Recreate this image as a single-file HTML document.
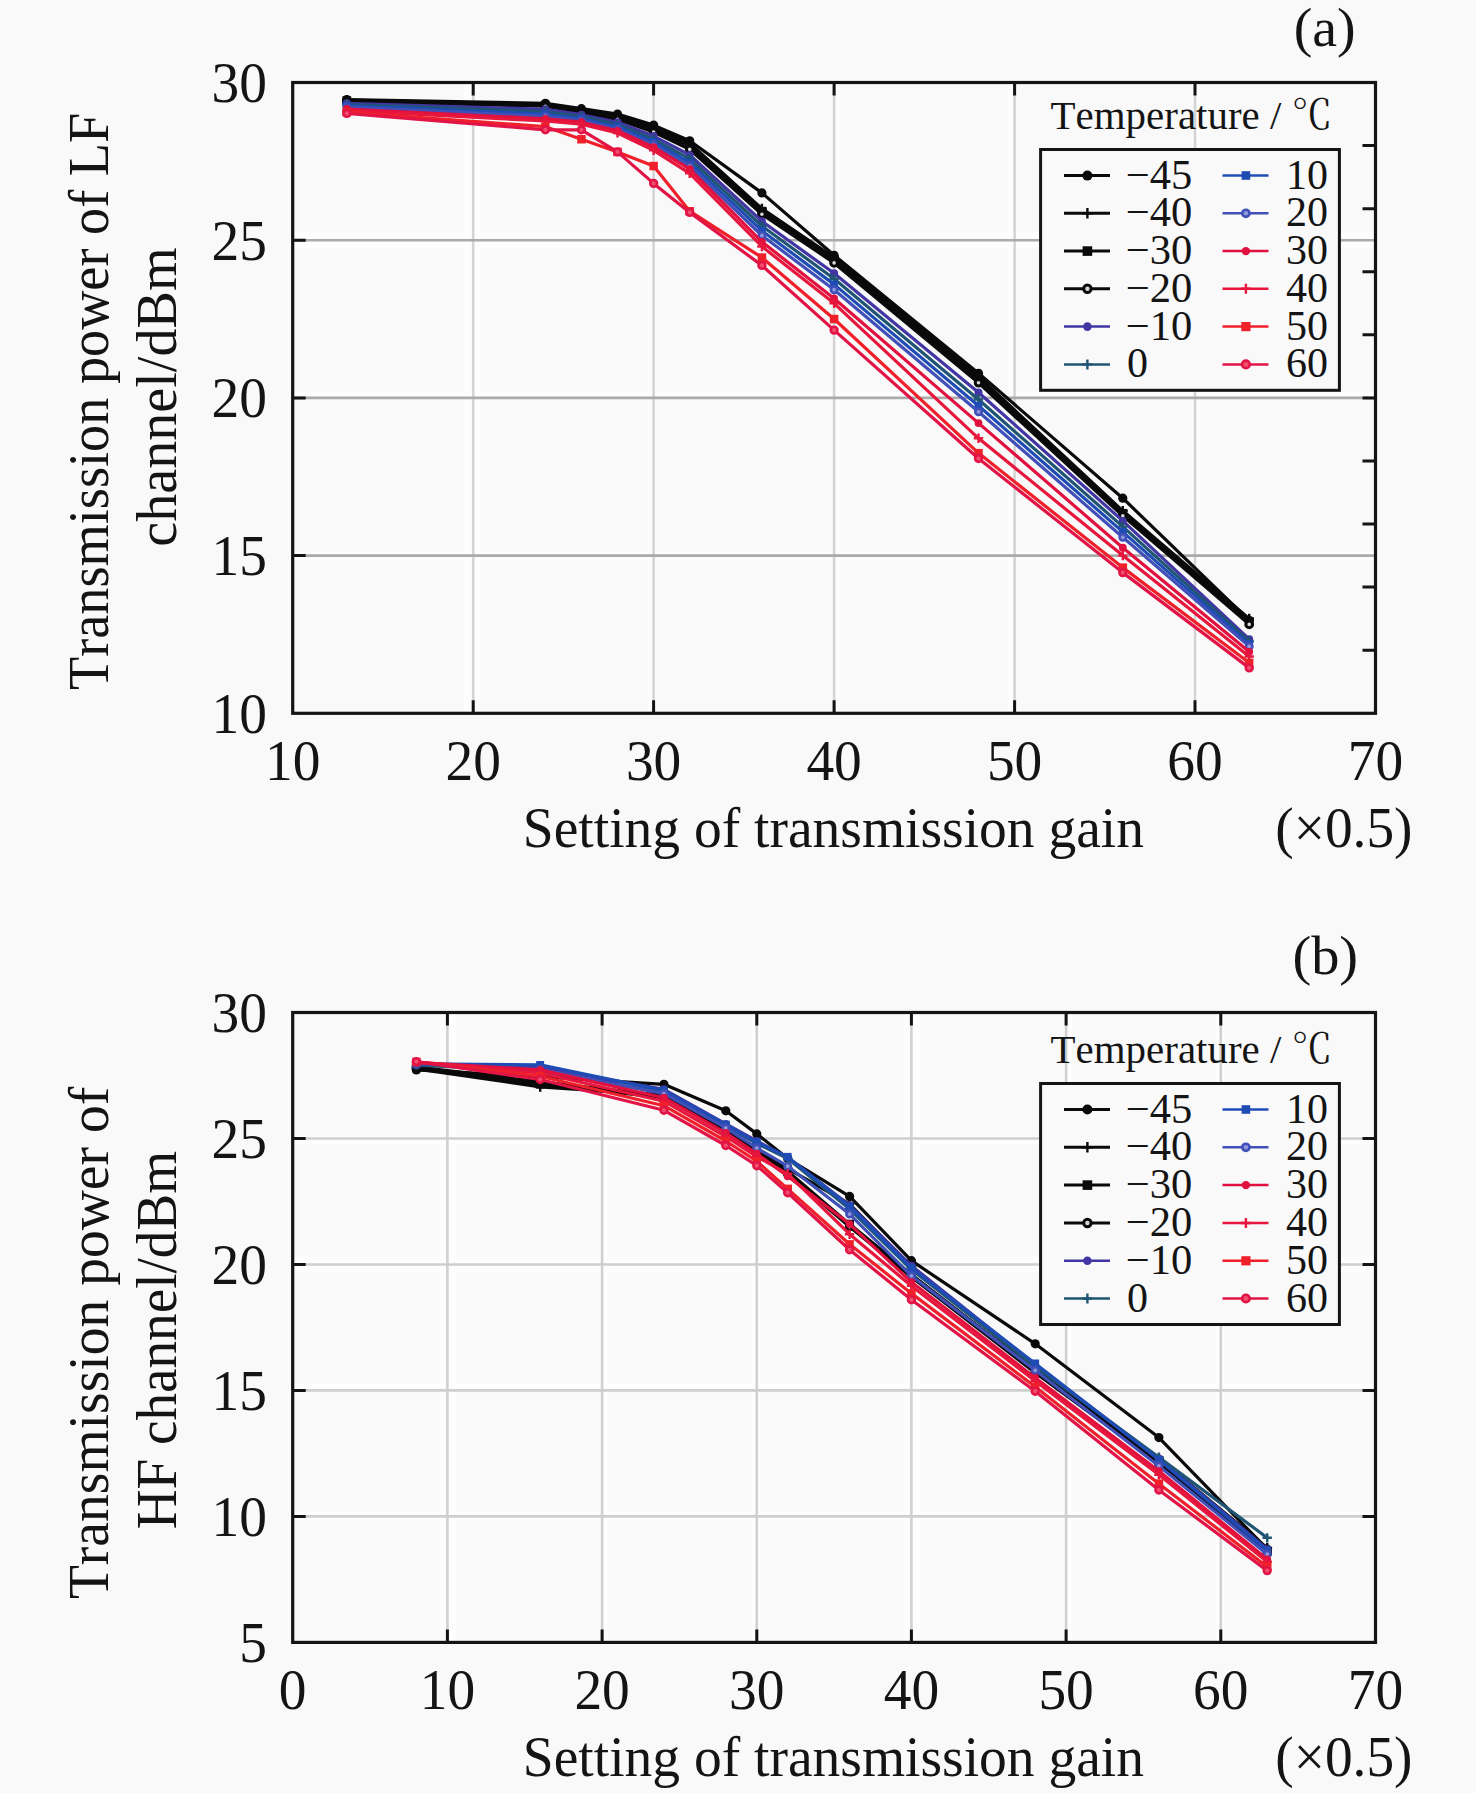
<!DOCTYPE html>
<html lang="en">
<head>
<meta charset="utf-8">
<title>Transmission power vs. transmission gain setting</title>
<style>
html,body{margin:0;padding:0;background:#f9f9f9;}
body{width:1476px;height:1793px;overflow:hidden;font-family:"Liberation Serif", "Noto Serif CJK SC", serif;}
svg{display:block;}
text{white-space:pre;font-kerning:none;}
</style>
</head>
<body>
<svg width="1476" height="1793" viewBox="0 0 1476 1793" font-family='"Liberation Serif", "Noto Serif CJK SC", serif' fill="#141414">
<rect width="1476" height="1793" fill="#f9f9f9"/>
<g fill="#fdfdfd"><rect x="464" y="82.5" width="16" height="630.8"/><rect x="648" y="82.5" width="8" height="630.8"/><rect x="832" y="82.5" width="8" height="630.8"/><rect x="1008" y="82.5" width="8" height="630.8"/><rect x="1192" y="82.5" width="8" height="630.8"/><rect x="292.7" y="552" width="1082.8" height="8"/><rect x="292.7" y="392" width="1082.8" height="8"/><rect x="292.7" y="232" width="1082.8" height="16"/></g>
<g stroke-width="2.6" fill="none"><path d="M473.2 82.5V713.3" stroke="#d4d4d4"/><path d="M653.6 82.5V713.3" stroke="#d4d4d4"/><path d="M834.1 82.5V713.3" stroke="#d4d4d4"/><path d="M1014.6 82.5V713.3" stroke="#d4d4d4"/><path d="M1195 82.5V713.3" stroke="#d4d4d4"/><path d="M292.7 555.6H1375.5" stroke="#aaaaaa"/><path d="M292.7 397.9H1375.5" stroke="#aaaaaa"/><path d="M292.7 240.2H1375.5" stroke="#aaaaaa"/></g>
<polyline points="346.8,99.5 545.4,103.3 581.4,108.7 617.5,114 653.6,125.1 689.7,140.8 761.9,192.9 834.1,255.3 978.5,373.3 1122.8,498.2 1249.2,620.3" fill="none" stroke="#0a0a0a" stroke-width="3.2" stroke-linejoin="round"/>
<circle cx="346.8" cy="99.5" r="4.6" fill="#0a0a0a"/><circle cx="545.4" cy="103.3" r="4.6" fill="#0a0a0a"/><circle cx="581.4" cy="108.7" r="4.6" fill="#0a0a0a"/><circle cx="617.5" cy="114" r="4.6" fill="#0a0a0a"/><circle cx="653.6" cy="125.1" r="4.6" fill="#0a0a0a"/><circle cx="689.7" cy="140.8" r="4.6" fill="#0a0a0a"/><circle cx="761.9" cy="192.9" r="4.6" fill="#0a0a0a"/><circle cx="834.1" cy="255.3" r="4.6" fill="#0a0a0a"/><circle cx="978.5" cy="373.3" r="4.6" fill="#0a0a0a"/><circle cx="1122.8" cy="498.2" r="4.6" fill="#0a0a0a"/><circle cx="1249.2" cy="620.3" r="4.6" fill="#0a0a0a"/>
<polyline points="346.8,100.2 545.4,104.3 581.4,110.3 617.5,116.2 653.6,127.6 689.7,143.1 761.9,208.7 834.1,257.5 978.5,376.5 1122.8,510.8 1249.2,618.7" fill="none" stroke="#0a0a0a" stroke-width="3.2" stroke-linejoin="round"/>
<path d="M346.8 95.3V105M342 100.2H351.7" stroke="#0a0a0a" stroke-width="2.4" fill="none"/><path d="M545.4 99.4V109.1M540.5 104.3H550.2" stroke="#0a0a0a" stroke-width="2.4" fill="none"/><path d="M581.4 105.4V115.1M576.6 110.3H586.3" stroke="#0a0a0a" stroke-width="2.4" fill="none"/><path d="M617.5 111.4V121.1M612.7 116.2H622.4" stroke="#0a0a0a" stroke-width="2.4" fill="none"/><path d="M653.6 122.7V132.5M648.8 127.6H658.5" stroke="#0a0a0a" stroke-width="2.4" fill="none"/><path d="M689.7 138.2V147.9M684.9 143.1H694.6" stroke="#0a0a0a" stroke-width="2.4" fill="none"/><path d="M761.9 203.8V213.5M757 208.7H766.8" stroke="#0a0a0a" stroke-width="2.4" fill="none"/><path d="M834.1 252.7V262.4M829.2 257.5H839" stroke="#0a0a0a" stroke-width="2.4" fill="none"/><path d="M978.5 371.6V381.3M973.6 376.5H983.3" stroke="#0a0a0a" stroke-width="2.4" fill="none"/><path d="M1122.8 505.9V515.7M1118 510.8H1127.7" stroke="#0a0a0a" stroke-width="2.4" fill="none"/><path d="M1249.2 613.8V623.5M1244.3 618.7H1254" stroke="#0a0a0a" stroke-width="2.4" fill="none"/>
<polyline points="346.8,100.8 545.4,105.2 581.4,111.5 617.5,117.8 653.6,129.8 689.7,146.2 761.9,211.2 834.1,259.8 978.5,379.6 1122.8,513.3 1249.2,621.8" fill="none" stroke="#0a0a0a" stroke-width="3.2" stroke-linejoin="round"/>
<rect x="342.4" y="96.4" width="8.8" height="8.8" fill="#0a0a0a"/><rect x="540.9" y="100.8" width="8.8" height="8.8" fill="#0a0a0a"/><rect x="577" y="107.1" width="8.8" height="8.8" fill="#0a0a0a"/><rect x="613.1" y="113.4" width="8.8" height="8.8" fill="#0a0a0a"/><rect x="649.2" y="125.4" width="8.8" height="8.8" fill="#0a0a0a"/><rect x="685.3" y="141.8" width="8.8" height="8.8" fill="#0a0a0a"/><rect x="757.5" y="206.8" width="8.8" height="8.8" fill="#0a0a0a"/><rect x="829.7" y="255.3" width="8.8" height="8.8" fill="#0a0a0a"/><rect x="974.1" y="375.2" width="8.8" height="8.8" fill="#0a0a0a"/><rect x="1118.4" y="508.9" width="8.8" height="8.8" fill="#0a0a0a"/><rect x="1244.8" y="617.4" width="8.8" height="8.8" fill="#0a0a0a"/>
<polyline points="346.8,101.4 545.4,106.2 581.4,112.8 617.5,119.4 653.6,132 689.7,149.4 761.9,214.3 834.1,262.9 978.5,382.8 1122.8,515.9 1249.2,624.4" fill="none" stroke="#0a0a0a" stroke-width="3.2" stroke-linejoin="round"/>
<circle cx="346.8" cy="101.4" r="3.3" fill="#d8d8d8" stroke="#0a0a0a" stroke-width="3"/><circle cx="545.4" cy="106.2" r="3.3" fill="#d8d8d8" stroke="#0a0a0a" stroke-width="3"/><circle cx="581.4" cy="112.8" r="3.3" fill="#d8d8d8" stroke="#0a0a0a" stroke-width="3"/><circle cx="617.5" cy="119.4" r="3.3" fill="#d8d8d8" stroke="#0a0a0a" stroke-width="3"/><circle cx="653.6" cy="132" r="3.3" fill="#d8d8d8" stroke="#0a0a0a" stroke-width="3"/><circle cx="689.7" cy="149.4" r="3.3" fill="#d8d8d8" stroke="#0a0a0a" stroke-width="3"/><circle cx="761.9" cy="214.3" r="3.3" fill="#d8d8d8" stroke="#0a0a0a" stroke-width="3"/><circle cx="834.1" cy="262.9" r="3.3" fill="#d8d8d8" stroke="#0a0a0a" stroke-width="3"/><circle cx="978.5" cy="382.8" r="3.3" fill="#d8d8d8" stroke="#0a0a0a" stroke-width="3"/><circle cx="1122.8" cy="515.9" r="3.3" fill="#d8d8d8" stroke="#0a0a0a" stroke-width="3"/><circle cx="1249.2" cy="624.4" r="3.3" fill="#d8d8d8" stroke="#0a0a0a" stroke-width="3"/>
<polyline points="346.8,103.3 545.4,109.3 581.4,114.7 617.5,122.2 653.6,136.1 689.7,155 761.9,221.3 834.1,273.3 978.5,392.5 1122.8,520.9 1249.2,639.2" fill="none" stroke="#4236a4" stroke-width="3.2" stroke-linejoin="round"/>
<circle cx="346.8" cy="103.3" r="4" fill="#4236a4"/><circle cx="545.4" cy="109.3" r="4" fill="#4236a4"/><circle cx="581.4" cy="114.7" r="4" fill="#4236a4"/><circle cx="617.5" cy="122.2" r="4" fill="#4236a4"/><circle cx="653.6" cy="136.1" r="4" fill="#4236a4"/><circle cx="689.7" cy="155" r="4" fill="#4236a4"/><circle cx="761.9" cy="221.3" r="4" fill="#4236a4"/><circle cx="834.1" cy="273.3" r="4" fill="#4236a4"/><circle cx="978.5" cy="392.5" r="4" fill="#4236a4"/><circle cx="1122.8" cy="520.9" r="4" fill="#4236a4"/><circle cx="1249.2" cy="639.2" r="4" fill="#4236a4"/>
<polyline points="346.8,104.6 545.4,111.5 581.4,116.6 617.5,124.4 653.6,139.3 689.7,158.8 761.9,226 834.1,278.7 978.5,399.5 1122.8,526.6 1249.2,641.4" fill="none" stroke="#1f5572" stroke-width="3.2" stroke-linejoin="round"/>
<path d="M346.8 99.9V109.3M342.2 104.6H351.5" stroke="#1f5572" stroke-width="2.4" fill="none"/><path d="M545.4 106.8V116.2M540.7 111.5H550" stroke="#1f5572" stroke-width="2.4" fill="none"/><path d="M581.4 111.9V121.2M576.8 116.6H586.1" stroke="#1f5572" stroke-width="2.4" fill="none"/><path d="M617.5 119.8V129.1M612.9 124.4H622.2" stroke="#1f5572" stroke-width="2.4" fill="none"/><path d="M653.6 134.6V144M649 139.3H658.3" stroke="#1f5572" stroke-width="2.4" fill="none"/><path d="M689.7 154.1V163.5M685 158.8H694.4" stroke="#1f5572" stroke-width="2.4" fill="none"/><path d="M761.9 221.3V230.7M757.2 226H766.6" stroke="#1f5572" stroke-width="2.4" fill="none"/><path d="M834.1 274V283.4M829.4 278.7H838.8" stroke="#1f5572" stroke-width="2.4" fill="none"/><path d="M978.5 394.8V404.2M973.8 399.5H983.2" stroke="#1f5572" stroke-width="2.4" fill="none"/><path d="M1122.8 521.9V531.3M1118.2 526.6H1127.5" stroke="#1f5572" stroke-width="2.4" fill="none"/><path d="M1249.2 636.7V646.1M1244.5 641.4H1253.9" stroke="#1f5572" stroke-width="2.4" fill="none"/>
<polyline points="346.8,105.8 545.4,114 581.4,118.5 617.5,126.7 653.6,141.8 689.7,162.6 761.9,230.7 834.1,284.4 978.5,405.8 1122.8,531.9 1249.2,643.9" fill="none" stroke="#1f4cb4" stroke-width="3.2" stroke-linejoin="round"/>
<rect x="342.9" y="101.9" width="7.9" height="7.9" fill="#1f4cb4"/><rect x="541.4" y="110.1" width="7.9" height="7.9" fill="#1f4cb4"/><rect x="577.5" y="114.5" width="7.9" height="7.9" fill="#1f4cb4"/><rect x="613.6" y="122.7" width="7.9" height="7.9" fill="#1f4cb4"/><rect x="649.7" y="137.8" width="7.9" height="7.9" fill="#1f4cb4"/><rect x="685.8" y="158.7" width="7.9" height="7.9" fill="#1f4cb4"/><rect x="758" y="226.8" width="7.9" height="7.9" fill="#1f4cb4"/><rect x="830.1" y="280.4" width="7.9" height="7.9" fill="#1f4cb4"/><rect x="974.5" y="401.8" width="7.9" height="7.9" fill="#1f4cb4"/><rect x="1118.9" y="528" width="7.9" height="7.9" fill="#1f4cb4"/><rect x="1245.2" y="640" width="7.9" height="7.9" fill="#1f4cb4"/>
<polyline points="346.8,107.1 545.4,116.2 581.4,120.3 617.5,128.9 653.6,144.6 689.7,166.1 761.9,235.5 834.1,289.7 978.5,411.8 1122.8,537.3 1249.2,646.4" fill="none" stroke="#4050b8" stroke-width="3.2" stroke-linejoin="round"/>
<circle cx="346.8" cy="107.1" r="3.2" fill="#8f98dd" stroke="#4050b8" stroke-width="2.6"/><circle cx="545.4" cy="116.2" r="3.2" fill="#8f98dd" stroke="#4050b8" stroke-width="2.6"/><circle cx="581.4" cy="120.3" r="3.2" fill="#8f98dd" stroke="#4050b8" stroke-width="2.6"/><circle cx="617.5" cy="128.9" r="3.2" fill="#8f98dd" stroke="#4050b8" stroke-width="2.6"/><circle cx="653.6" cy="144.6" r="3.2" fill="#8f98dd" stroke="#4050b8" stroke-width="2.6"/><circle cx="689.7" cy="166.1" r="3.2" fill="#8f98dd" stroke="#4050b8" stroke-width="2.6"/><circle cx="761.9" cy="235.5" r="3.2" fill="#8f98dd" stroke="#4050b8" stroke-width="2.6"/><circle cx="834.1" cy="289.7" r="3.2" fill="#8f98dd" stroke="#4050b8" stroke-width="2.6"/><circle cx="978.5" cy="411.8" r="3.2" fill="#8f98dd" stroke="#4050b8" stroke-width="2.6"/><circle cx="1122.8" cy="537.3" r="3.2" fill="#8f98dd" stroke="#4050b8" stroke-width="2.6"/><circle cx="1249.2" cy="646.4" r="3.2" fill="#8f98dd" stroke="#4050b8" stroke-width="2.6"/>
<polyline points="346.8,109 545.4,118.8 581.4,122.2 617.5,130.8 653.6,147.2 689.7,169.2 761.9,241.8 834.1,298.5 978.5,423.1 1122.8,547.7 1249.2,651.8" fill="none" stroke="#e0103f" stroke-width="3.2" stroke-linejoin="round"/>
<circle cx="346.8" cy="109" r="3.9" fill="#e0103f"/><circle cx="545.4" cy="118.8" r="3.9" fill="#e0103f"/><circle cx="581.4" cy="122.2" r="3.9" fill="#e0103f"/><circle cx="617.5" cy="130.8" r="3.9" fill="#e0103f"/><circle cx="653.6" cy="147.2" r="3.9" fill="#e0103f"/><circle cx="689.7" cy="169.2" r="3.9" fill="#e0103f"/><circle cx="761.9" cy="241.8" r="3.9" fill="#e0103f"/><circle cx="834.1" cy="298.5" r="3.9" fill="#e0103f"/><circle cx="978.5" cy="423.1" r="3.9" fill="#e0103f"/><circle cx="1122.8" cy="547.7" r="3.9" fill="#e0103f"/><circle cx="1249.2" cy="651.8" r="3.9" fill="#e0103f"/>
<polyline points="346.8,110.6 545.4,121 581.4,124.1 617.5,133 653.6,150.3 689.7,173.3 761.9,246.5 834.1,303.3 978.5,438.3 1122.8,555.6 1249.2,656.5" fill="none" stroke="#e6163c" stroke-width="3.2" stroke-linejoin="round"/>
<path d="M346.8 105.9V115.3M342.2 110.6H351.5" stroke="#e6163c" stroke-width="2.4" fill="none"/><path d="M545.4 116.3V125.7M540.7 121H550" stroke="#e6163c" stroke-width="2.4" fill="none"/><path d="M581.4 119.5V128.8M576.8 124.1H586.1" stroke="#e6163c" stroke-width="2.4" fill="none"/><path d="M617.5 128.3V137.6M612.9 133H622.2" stroke="#e6163c" stroke-width="2.4" fill="none"/><path d="M653.6 145.6V155M649 150.3H658.3" stroke="#e6163c" stroke-width="2.4" fill="none"/><path d="M689.7 168.7V178M685 173.3H694.4" stroke="#e6163c" stroke-width="2.4" fill="none"/><path d="M761.9 241.8V251.2M757.2 246.5H766.6" stroke="#e6163c" stroke-width="2.4" fill="none"/><path d="M834.1 298.6V308M829.4 303.3H838.8" stroke="#e6163c" stroke-width="2.4" fill="none"/><path d="M978.5 433.6V443M973.8 438.3H983.2" stroke="#e6163c" stroke-width="2.4" fill="none"/><path d="M1122.8 550.9V560.3M1118.2 555.6H1127.5" stroke="#e6163c" stroke-width="2.4" fill="none"/><path d="M1249.2 651.8V661.2M1244.5 656.5H1253.9" stroke="#e6163c" stroke-width="2.4" fill="none"/>
<polyline points="346.8,112.1 545.4,126.7 581.4,139.3 617.5,151.9 653.6,166.1 689.7,211.2 761.9,257.5 834.1,319 978.5,453.1 1122.8,567.6 1249.2,662.8" fill="none" stroke="#f0202a" stroke-width="3.2" stroke-linejoin="round"/>
<rect x="342.6" y="107.9" width="8.5" height="8.5" fill="#f0202a"/><rect x="541.1" y="122.4" width="8.5" height="8.5" fill="#f0202a"/><rect x="577.2" y="135" width="8.5" height="8.5" fill="#f0202a"/><rect x="613.3" y="147.7" width="8.5" height="8.5" fill="#f0202a"/><rect x="649.4" y="161.8" width="8.5" height="8.5" fill="#f0202a"/><rect x="685.5" y="207" width="8.5" height="8.5" fill="#f0202a"/><rect x="757.7" y="253.3" width="8.5" height="8.5" fill="#f0202a"/><rect x="829.9" y="314.8" width="8.5" height="8.5" fill="#f0202a"/><rect x="974.2" y="448.9" width="8.5" height="8.5" fill="#f0202a"/><rect x="1118.6" y="563.4" width="8.5" height="8.5" fill="#f0202a"/><rect x="1244.9" y="658.6" width="8.5" height="8.5" fill="#f0202a"/>
<polyline points="346.8,113.4 545.4,129.8 581.4,129.8 617.5,151.9 653.6,183.4 689.7,212.4 761.9,265.4 834.1,330.1 978.5,458.5 1122.8,572.6 1249.2,667.9" fill="none" stroke="#e21446" stroke-width="3.2" stroke-linejoin="round"/>
<circle cx="346.8" cy="113.4" r="3.4" fill="#f0506e" stroke="#e21446" stroke-width="2.6"/><circle cx="545.4" cy="129.8" r="3.4" fill="#f0506e" stroke="#e21446" stroke-width="2.6"/><circle cx="581.4" cy="129.8" r="3.4" fill="#f0506e" stroke="#e21446" stroke-width="2.6"/><circle cx="617.5" cy="151.9" r="3.4" fill="#f0506e" stroke="#e21446" stroke-width="2.6"/><circle cx="653.6" cy="183.4" r="3.4" fill="#f0506e" stroke="#e21446" stroke-width="2.6"/><circle cx="689.7" cy="212.4" r="3.4" fill="#f0506e" stroke="#e21446" stroke-width="2.6"/><circle cx="761.9" cy="265.4" r="3.4" fill="#f0506e" stroke="#e21446" stroke-width="2.6"/><circle cx="834.1" cy="330.1" r="3.4" fill="#f0506e" stroke="#e21446" stroke-width="2.6"/><circle cx="978.5" cy="458.5" r="3.4" fill="#f0506e" stroke="#e21446" stroke-width="2.6"/><circle cx="1122.8" cy="572.6" r="3.4" fill="#f0506e" stroke="#e21446" stroke-width="2.6"/><circle cx="1249.2" cy="667.9" r="3.4" fill="#f0506e" stroke="#e21446" stroke-width="2.6"/>
<path d="M473.2 713.3v-13M473.2 82.5v13M653.6 713.3v-13M653.6 82.5v13M834.1 713.3v-13M834.1 82.5v13M1014.6 713.3v-13M1014.6 82.5v13M1195 713.3v-13M1195 82.5v13M292.7 555.6h13M292.7 397.9h13M292.7 240.2h13M1375.5 145.6h-13M1375.5 208.7h-13M1375.5 271.7h-13M1375.5 334.8h-13M1375.5 397.9h-13M1375.5 461h-13M1375.5 524.1h-13M1375.5 587.1h-13M1375.5 650.2h-13" stroke="#141414" stroke-width="3" fill="none"/>
<rect x="292.7" y="82.5" width="1082.8" height="630.8" fill="none" stroke="#141414" stroke-width="3.2"/>
<text x="292.7" y="779.5" text-anchor="middle" font-size="56" textLength="55.4" lengthAdjust="spacingAndGlyphs">10</text>
<text x="473.2" y="779.5" text-anchor="middle" font-size="56" textLength="55.4" lengthAdjust="spacingAndGlyphs">20</text>
<text x="653.6" y="779.5" text-anchor="middle" font-size="56" textLength="55.4" lengthAdjust="spacingAndGlyphs">30</text>
<text x="834.1" y="779.5" text-anchor="middle" font-size="56" textLength="55.4" lengthAdjust="spacingAndGlyphs">40</text>
<text x="1014.6" y="779.5" text-anchor="middle" font-size="56" textLength="55.4" lengthAdjust="spacingAndGlyphs">50</text>
<text x="1195" y="779.5" text-anchor="middle" font-size="56" textLength="55.4" lengthAdjust="spacingAndGlyphs">60</text>
<text x="1375.5" y="779.5" text-anchor="middle" font-size="56" textLength="55.4" lengthAdjust="spacingAndGlyphs">70</text>
<text x="266.9" y="732.6" text-anchor="end" font-size="56" textLength="55.4" lengthAdjust="spacingAndGlyphs">10</text>
<text x="266.9" y="574.9" text-anchor="end" font-size="56" textLength="55.4" lengthAdjust="spacingAndGlyphs">15</text>
<text x="266.9" y="417.2" text-anchor="end" font-size="56" textLength="55.4" lengthAdjust="spacingAndGlyphs">20</text>
<text x="266.9" y="259.5" text-anchor="end" font-size="56" textLength="55.4" lengthAdjust="spacingAndGlyphs">25</text>
<text x="266.9" y="101.8" text-anchor="end" font-size="56" textLength="55.4" lengthAdjust="spacingAndGlyphs">30</text>
<rect x="1040.6" y="149.5" width="298.8" height="240.8" fill="#f9f9f9" stroke="#141414" stroke-width="3"/>
<path d="M1064 175.6H1110" stroke="#0a0a0a" stroke-width="3"/>
<circle cx="1087.4" cy="175.6" r="5" fill="#0a0a0a"/>
<text x="1125.8" y="188.6" font-size="42" textLength="66.6" lengthAdjust="spacingAndGlyphs">−45</text>
<path d="M1064 213.3H1110" stroke="#0a0a0a" stroke-width="3"/>
<path d="M1087.4 208.1V218.5M1082.2 213.3H1092.6" stroke="#0a0a0a" stroke-width="2.4" fill="none"/>
<text x="1125.8" y="226.3" font-size="42" textLength="66.6" lengthAdjust="spacingAndGlyphs">−40</text>
<path d="M1064 251.1H1110" stroke="#0a0a0a" stroke-width="3"/>
<rect x="1082.6" y="246.3" width="9.6" height="9.6" fill="#0a0a0a"/>
<text x="1125.8" y="264.1" font-size="42" textLength="66.6" lengthAdjust="spacingAndGlyphs">−30</text>
<path d="M1064 288.8H1110" stroke="#0a0a0a" stroke-width="3"/>
<circle cx="1087.4" cy="288.8" r="3.7" fill="#d8d8d8" stroke="#0a0a0a" stroke-width="3"/>
<text x="1125.8" y="301.8" font-size="42" textLength="66.6" lengthAdjust="spacingAndGlyphs">−20</text>
<path d="M1064 326.6H1110" stroke="#4236a4" stroke-width="2.5"/>
<circle cx="1087.4" cy="326.6" r="4.3" fill="#4236a4"/>
<text x="1125.8" y="339.6" font-size="42" textLength="66.6" lengthAdjust="spacingAndGlyphs">−10</text>
<path d="M1064 364.4H1110" stroke="#1f5572" stroke-width="2.5"/>
<path d="M1087.4 359.4V369.4M1082.4 364.4H1092.4" stroke="#1f5572" stroke-width="2.4" fill="none"/>
<text x="1127" y="377.4" font-size="42">0</text>
<path d="M1222.5 175.6H1268.5" stroke="#1f4cb4" stroke-width="2.5"/>
<rect x="1241.6" y="171.2" width="8.6" height="8.6" fill="#1f4cb4"/>
<text x="1328" y="188.6" font-size="42" text-anchor="end">10</text>
<path d="M1222.5 213.3H1268.5" stroke="#4050b8" stroke-width="2.5"/>
<circle cx="1245.9" cy="213.3" r="3.6" fill="#8f98dd" stroke="#4050b8" stroke-width="2.6"/>
<text x="1328" y="226.3" font-size="42" text-anchor="end">20</text>
<path d="M1222.5 251.1H1268.5" stroke="#e0103f" stroke-width="2.5"/>
<circle cx="1245.9" cy="251.1" r="4.2" fill="#e0103f"/>
<text x="1328" y="264.1" font-size="42" text-anchor="end">30</text>
<path d="M1222.5 288.8H1268.5" stroke="#e6163c" stroke-width="2.5"/>
<path d="M1245.9 283.8V293.8M1240.9 288.8H1250.9" stroke="#e6163c" stroke-width="2.4" fill="none"/>
<text x="1328" y="301.8" font-size="42" text-anchor="end">40</text>
<path d="M1222.5 326.6H1268.5" stroke="#f0202a" stroke-width="2.5"/>
<rect x="1241.3" y="322" width="9.2" height="9.2" fill="#f0202a"/>
<text x="1328" y="339.6" font-size="42" text-anchor="end">50</text>
<path d="M1222.5 364.4H1268.5" stroke="#e21446" stroke-width="2.5"/>
<circle cx="1245.9" cy="364.4" r="3.8" fill="#f0506e" stroke="#e21446" stroke-width="2.6"/>
<text x="1328" y="377.4" font-size="42" text-anchor="end">60</text>
<text x="1050.6" y="128.9" font-size="41" textLength="281.9" lengthAdjust="spacingAndGlyphs">Temperature / ℃</text>
<text x="1293.7" y="46.2" font-size="55" textLength="62" lengthAdjust="spacingAndGlyphs">(a)</text>
<text x="522.8" y="847.2" font-size="56" textLength="621.2" lengthAdjust="spacingAndGlyphs">Setting of transmission gain</text>
<text x="1275.3" y="847.2" font-size="56" textLength="137.2" lengthAdjust="spacingAndGlyphs">(×0.5)</text>
<text transform="translate(107.9 689) rotate(-90)" x="-1" y="0" font-size="56" textLength="577.1" lengthAdjust="spacingAndGlyphs">Transmission power of LF</text>
<text transform="translate(175.9 544.7) rotate(-90)" x="-2" y="0" font-size="56" textLength="299.3" lengthAdjust="spacingAndGlyphs">channel/dBm</text>
<g fill="#fdfdfd"><rect x="440" y="1012.5" width="16" height="629.9"/><rect x="600" y="1012.5" width="8" height="629.9"/><rect x="752" y="1012.5" width="8" height="629.9"/><rect x="904" y="1012.5" width="16" height="629.9"/><rect x="1064" y="1012.5" width="8" height="629.9"/><rect x="1216" y="1012.5" width="8" height="629.9"/><rect x="292.7" y="1512" width="1082.8" height="8"/><rect x="292.7" y="1384" width="1082.8" height="8"/><rect x="292.7" y="1256" width="1082.8" height="16"/><rect x="292.7" y="1136" width="1082.8" height="8"/></g>
<g stroke-width="2.6" fill="none"><path d="M447.4 1012.5V1642.4" stroke="#d0d0d0"/><path d="M602.1 1012.5V1642.4" stroke="#d0d0d0"/><path d="M756.8 1012.5V1642.4" stroke="#d0d0d0"/><path d="M911.4 1012.5V1642.4" stroke="#d0d0d0"/><path d="M1066.1 1012.5V1642.4" stroke="#d0d0d0"/><path d="M1220.8 1012.5V1642.4" stroke="#d0d0d0"/><path d="M292.7 1516.4H1375.5" stroke="#cecece"/><path d="M292.7 1390.4H1375.5" stroke="#cecece"/><path d="M292.7 1264.5H1375.5" stroke="#cecece"/><path d="M292.7 1138.5H1375.5" stroke="#cecece"/></g>
<polyline points="416.4,1069.9 540.2,1076.7 663.9,1084.3 725.8,1110.8 756.8,1133.9 787.7,1158.6 849.6,1196.4 911.4,1260.7 1035.2,1343.8 1158.9,1437.6 1267.2,1549.2" fill="none" stroke="#0a0a0a" stroke-width="3.2" stroke-linejoin="round"/>
<circle cx="416.4" cy="1069.9" r="4.6" fill="#0a0a0a"/><circle cx="540.2" cy="1076.7" r="4.6" fill="#0a0a0a"/><circle cx="663.9" cy="1084.3" r="4.6" fill="#0a0a0a"/><circle cx="725.8" cy="1110.8" r="4.6" fill="#0a0a0a"/><circle cx="756.8" cy="1133.9" r="4.6" fill="#0a0a0a"/><circle cx="787.7" cy="1158.6" r="4.6" fill="#0a0a0a"/><circle cx="849.6" cy="1196.4" r="4.6" fill="#0a0a0a"/><circle cx="911.4" cy="1260.7" r="4.6" fill="#0a0a0a"/><circle cx="1035.2" cy="1343.8" r="4.6" fill="#0a0a0a"/><circle cx="1158.9" cy="1437.6" r="4.6" fill="#0a0a0a"/><circle cx="1267.2" cy="1549.2" r="4.6" fill="#0a0a0a"/>
<polyline points="416.4,1068.9 540.2,1086.8 663.9,1095.1 725.8,1127.9 756.8,1150.6 787.7,1168.7 849.6,1204 911.4,1267 1035.2,1367.8 1158.9,1458.5 1267.2,1547.9" fill="none" stroke="#0a0a0a" stroke-width="3.2" stroke-linejoin="round"/>
<path d="M416.4 1064.1V1073.8M411.6 1068.9H421.3" stroke="#0a0a0a" stroke-width="2.4" fill="none"/><path d="M540.2 1082V1091.7M535.3 1086.8H545.1" stroke="#0a0a0a" stroke-width="2.4" fill="none"/><path d="M663.9 1090.3V1100M659.1 1095.1H668.8" stroke="#0a0a0a" stroke-width="2.4" fill="none"/><path d="M725.8 1123V1132.8M721 1127.9H730.7" stroke="#0a0a0a" stroke-width="2.4" fill="none"/><path d="M756.8 1145.7V1155.4M751.9 1150.6H761.6" stroke="#0a0a0a" stroke-width="2.4" fill="none"/><path d="M787.7 1163.9V1173.6M782.8 1168.7H792.6" stroke="#0a0a0a" stroke-width="2.4" fill="none"/><path d="M849.6 1199.1V1208.9M844.7 1204H854.4" stroke="#0a0a0a" stroke-width="2.4" fill="none"/><path d="M911.4 1262.1V1271.8M906.6 1267H916.3" stroke="#0a0a0a" stroke-width="2.4" fill="none"/><path d="M1035.2 1362.9V1372.6M1030.3 1367.8H1040.1" stroke="#0a0a0a" stroke-width="2.4" fill="none"/><path d="M1158.9 1453.6V1463.3M1154.1 1458.5H1163.8" stroke="#0a0a0a" stroke-width="2.4" fill="none"/><path d="M1267.2 1543.1V1552.8M1262.4 1547.9H1272.1" stroke="#0a0a0a" stroke-width="2.4" fill="none"/>
<polyline points="416.4,1067.9 540.2,1084.3 663.9,1097.7 725.8,1130.4 756.8,1153.1 787.7,1171.2 849.6,1224.1 911.4,1274.5 1035.2,1370.3 1158.9,1461 1267.2,1551.7" fill="none" stroke="#0a0a0a" stroke-width="3.2" stroke-linejoin="round"/>
<rect x="412" y="1063.5" width="8.8" height="8.8" fill="#0a0a0a"/><rect x="535.8" y="1079.9" width="8.8" height="8.8" fill="#0a0a0a"/><rect x="659.5" y="1093.2" width="8.8" height="8.8" fill="#0a0a0a"/><rect x="721.4" y="1126" width="8.8" height="8.8" fill="#0a0a0a"/><rect x="752.3" y="1148.7" width="8.8" height="8.8" fill="#0a0a0a"/><rect x="783.3" y="1166.8" width="8.8" height="8.8" fill="#0a0a0a"/><rect x="845.2" y="1219.7" width="8.8" height="8.8" fill="#0a0a0a"/><rect x="907" y="1270.1" width="8.8" height="8.8" fill="#0a0a0a"/><rect x="1030.8" y="1365.9" width="8.8" height="8.8" fill="#0a0a0a"/><rect x="1154.5" y="1456.6" width="8.8" height="8.8" fill="#0a0a0a"/><rect x="1262.8" y="1547.3" width="8.8" height="8.8" fill="#0a0a0a"/>
<polyline points="416.4,1066.9 540.2,1081.8 663.9,1095.6 725.8,1129.4 756.8,1152.1 787.7,1173.8 849.6,1226.7 911.4,1277.1 1035.2,1372.8 1158.9,1463.5 1267.2,1553" fill="none" stroke="#0a0a0a" stroke-width="3.2" stroke-linejoin="round"/>
<circle cx="416.4" cy="1066.9" r="3.3" fill="#d8d8d8" stroke="#0a0a0a" stroke-width="3"/><circle cx="540.2" cy="1081.8" r="3.3" fill="#d8d8d8" stroke="#0a0a0a" stroke-width="3"/><circle cx="663.9" cy="1095.6" r="3.3" fill="#d8d8d8" stroke="#0a0a0a" stroke-width="3"/><circle cx="725.8" cy="1129.4" r="3.3" fill="#d8d8d8" stroke="#0a0a0a" stroke-width="3"/><circle cx="756.8" cy="1152.1" r="3.3" fill="#d8d8d8" stroke="#0a0a0a" stroke-width="3"/><circle cx="787.7" cy="1173.8" r="3.3" fill="#d8d8d8" stroke="#0a0a0a" stroke-width="3"/><circle cx="849.6" cy="1226.7" r="3.3" fill="#d8d8d8" stroke="#0a0a0a" stroke-width="3"/><circle cx="911.4" cy="1277.1" r="3.3" fill="#d8d8d8" stroke="#0a0a0a" stroke-width="3"/><circle cx="1035.2" cy="1372.8" r="3.3" fill="#d8d8d8" stroke="#0a0a0a" stroke-width="3"/><circle cx="1158.9" cy="1463.5" r="3.3" fill="#d8d8d8" stroke="#0a0a0a" stroke-width="3"/><circle cx="1267.2" cy="1553" r="3.3" fill="#d8d8d8" stroke="#0a0a0a" stroke-width="3"/>
<polyline points="416.4,1065.4 540.2,1067.4 663.9,1089.3 725.8,1123.9 756.8,1141 787.7,1157.4 849.6,1205.2 911.4,1265.7 1035.2,1364.7 1158.9,1458.5 1267.2,1549.2" fill="none" stroke="#4236a4" stroke-width="3.2" stroke-linejoin="round"/>
<circle cx="416.4" cy="1065.4" r="4" fill="#4236a4"/><circle cx="540.2" cy="1067.4" r="4" fill="#4236a4"/><circle cx="663.9" cy="1089.3" r="4" fill="#4236a4"/><circle cx="725.8" cy="1123.9" r="4" fill="#4236a4"/><circle cx="756.8" cy="1141" r="4" fill="#4236a4"/><circle cx="787.7" cy="1157.4" r="4" fill="#4236a4"/><circle cx="849.6" cy="1205.2" r="4" fill="#4236a4"/><circle cx="911.4" cy="1265.7" r="4" fill="#4236a4"/><circle cx="1035.2" cy="1364.7" r="4" fill="#4236a4"/><circle cx="1158.9" cy="1458.5" r="4" fill="#4236a4"/><circle cx="1267.2" cy="1549.2" r="4" fill="#4236a4"/>
<polyline points="416.4,1064.9 540.2,1071.5 663.9,1092.6 725.8,1125.9 756.8,1143.5 787.7,1158.6 849.6,1209 911.4,1269.5 1035.2,1366.5 1158.9,1457.2 1267.2,1537.8" fill="none" stroke="#1f5572" stroke-width="3.2" stroke-linejoin="round"/>
<path d="M416.4 1060.2V1069.6M411.8 1064.9H421.1" stroke="#1f5572" stroke-width="2.4" fill="none"/><path d="M540.2 1066.8V1076.1M535.5 1071.5H544.9" stroke="#1f5572" stroke-width="2.4" fill="none"/><path d="M663.9 1087.9V1097.3M659.3 1092.6H668.6" stroke="#1f5572" stroke-width="2.4" fill="none"/><path d="M725.8 1121.2V1130.6M721.1 1125.9H730.5" stroke="#1f5572" stroke-width="2.4" fill="none"/><path d="M756.8 1138.8V1148.2M752.1 1143.5H761.4" stroke="#1f5572" stroke-width="2.4" fill="none"/><path d="M787.7 1154V1163.3M783 1158.6H792.4" stroke="#1f5572" stroke-width="2.4" fill="none"/><path d="M849.6 1204.3V1213.7M844.9 1209H854.2" stroke="#1f5572" stroke-width="2.4" fill="none"/><path d="M911.4 1264.8V1274.2M906.8 1269.5H916.1" stroke="#1f5572" stroke-width="2.4" fill="none"/><path d="M1035.2 1361.8V1371.2M1030.5 1366.5H1039.9" stroke="#1f5572" stroke-width="2.4" fill="none"/><path d="M1158.9 1452.5V1461.9M1154.3 1457.2H1163.6" stroke="#1f5572" stroke-width="2.4" fill="none"/><path d="M1267.2 1533.2V1542.5M1262.5 1537.8H1271.9" stroke="#1f5572" stroke-width="2.4" fill="none"/>
<polyline points="416.4,1063.9 540.2,1064.9 663.9,1090.6 725.8,1124.6 756.8,1142.3 787.7,1156.9 849.6,1206.5 911.4,1268.2 1035.2,1363.5 1158.9,1459.7 1267.2,1550.4" fill="none" stroke="#1f4cb4" stroke-width="3.2" stroke-linejoin="round"/>
<rect x="412.5" y="1059.9" width="7.9" height="7.9" fill="#1f4cb4"/><rect x="536.2" y="1061" width="7.9" height="7.9" fill="#1f4cb4"/><rect x="660" y="1086.7" width="7.9" height="7.9" fill="#1f4cb4"/><rect x="721.9" y="1120.7" width="7.9" height="7.9" fill="#1f4cb4"/><rect x="752.8" y="1138.3" width="7.9" height="7.9" fill="#1f4cb4"/><rect x="783.7" y="1152.9" width="7.9" height="7.9" fill="#1f4cb4"/><rect x="845.6" y="1202.6" width="7.9" height="7.9" fill="#1f4cb4"/><rect x="907.5" y="1264.3" width="7.9" height="7.9" fill="#1f4cb4"/><rect x="1031.2" y="1359.5" width="7.9" height="7.9" fill="#1f4cb4"/><rect x="1155" y="1455.8" width="7.9" height="7.9" fill="#1f4cb4"/><rect x="1263.3" y="1546.5" width="7.9" height="7.9" fill="#1f4cb4"/>
<polyline points="416.4,1063.4 540.2,1069.4 663.9,1093.6 725.8,1127.9 756.8,1148.1 787.7,1166.2 849.6,1214.1 911.4,1275.8 1035.2,1370.3 1158.9,1466 1267.2,1554.2" fill="none" stroke="#4050b8" stroke-width="3.2" stroke-linejoin="round"/>
<circle cx="416.4" cy="1063.4" r="3.2" fill="#8f98dd" stroke="#4050b8" stroke-width="2.6"/><circle cx="540.2" cy="1069.4" r="3.2" fill="#8f98dd" stroke="#4050b8" stroke-width="2.6"/><circle cx="663.9" cy="1093.6" r="3.2" fill="#8f98dd" stroke="#4050b8" stroke-width="2.6"/><circle cx="725.8" cy="1127.9" r="3.2" fill="#8f98dd" stroke="#4050b8" stroke-width="2.6"/><circle cx="756.8" cy="1148.1" r="3.2" fill="#8f98dd" stroke="#4050b8" stroke-width="2.6"/><circle cx="787.7" cy="1166.2" r="3.2" fill="#8f98dd" stroke="#4050b8" stroke-width="2.6"/><circle cx="849.6" cy="1214.1" r="3.2" fill="#8f98dd" stroke="#4050b8" stroke-width="2.6"/><circle cx="911.4" cy="1275.8" r="3.2" fill="#8f98dd" stroke="#4050b8" stroke-width="2.6"/><circle cx="1035.2" cy="1370.3" r="3.2" fill="#8f98dd" stroke="#4050b8" stroke-width="2.6"/><circle cx="1158.9" cy="1466" r="3.2" fill="#8f98dd" stroke="#4050b8" stroke-width="2.6"/><circle cx="1267.2" cy="1554.2" r="3.2" fill="#8f98dd" stroke="#4050b8" stroke-width="2.6"/>
<polyline points="416.4,1062.4 540.2,1069.9 663.9,1097.7 725.8,1132.9 756.8,1153.6 787.7,1176.3 849.6,1224.1 911.4,1282.1 1035.2,1377.8 1158.9,1471.1 1267.2,1559.3" fill="none" stroke="#e0103f" stroke-width="3.2" stroke-linejoin="round"/>
<circle cx="416.4" cy="1062.4" r="3.9" fill="#e0103f"/><circle cx="540.2" cy="1069.9" r="3.9" fill="#e0103f"/><circle cx="663.9" cy="1097.7" r="3.9" fill="#e0103f"/><circle cx="725.8" cy="1132.9" r="3.9" fill="#e0103f"/><circle cx="756.8" cy="1153.6" r="3.9" fill="#e0103f"/><circle cx="787.7" cy="1176.3" r="3.9" fill="#e0103f"/><circle cx="849.6" cy="1224.1" r="3.9" fill="#e0103f"/><circle cx="911.4" cy="1282.1" r="3.9" fill="#e0103f"/><circle cx="1035.2" cy="1377.8" r="3.9" fill="#e0103f"/><circle cx="1158.9" cy="1471.1" r="3.9" fill="#e0103f"/><circle cx="1267.2" cy="1559.3" r="3.9" fill="#e0103f"/>
<polyline points="416.4,1062.1 540.2,1073 663.9,1101.2 725.8,1136.5 756.8,1156.6 787.7,1173.8 849.6,1234.2 911.4,1285.9 1035.2,1380.9 1158.9,1474.8 1267.2,1561.8" fill="none" stroke="#e6163c" stroke-width="3.2" stroke-linejoin="round"/>
<path d="M416.4 1057.5V1066.8M411.8 1062.1H421.1" stroke="#e6163c" stroke-width="2.4" fill="none"/><path d="M540.2 1068.3V1077.7M535.5 1073H544.9" stroke="#e6163c" stroke-width="2.4" fill="none"/><path d="M663.9 1096.5V1105.9M659.3 1101.2H668.6" stroke="#e6163c" stroke-width="2.4" fill="none"/><path d="M725.8 1131.8V1141.1M721.1 1136.5H730.5" stroke="#e6163c" stroke-width="2.4" fill="none"/><path d="M756.8 1151.9V1161.3M752.1 1156.6H761.4" stroke="#e6163c" stroke-width="2.4" fill="none"/><path d="M787.7 1169.1V1178.4M783 1173.8H792.4" stroke="#e6163c" stroke-width="2.4" fill="none"/><path d="M849.6 1229.5V1238.9M844.9 1234.2H854.2" stroke="#e6163c" stroke-width="2.4" fill="none"/><path d="M911.4 1281.2V1290.6M906.8 1285.9H916.1" stroke="#e6163c" stroke-width="2.4" fill="none"/><path d="M1035.2 1376.2V1385.5M1030.5 1380.9H1039.9" stroke="#e6163c" stroke-width="2.4" fill="none"/><path d="M1158.9 1470.2V1479.5M1154.3 1474.8H1163.6" stroke="#e6163c" stroke-width="2.4" fill="none"/><path d="M1267.2 1557.1V1566.5M1262.5 1561.8H1271.9" stroke="#e6163c" stroke-width="2.4" fill="none"/>
<polyline points="416.4,1061.9 540.2,1076.2 663.9,1105.7 725.8,1141 756.8,1161.2 787.7,1188.9 849.6,1244.3 911.4,1293.4 1035.2,1386.7 1158.9,1483.7 1267.2,1566.8" fill="none" stroke="#f0202a" stroke-width="3.2" stroke-linejoin="round"/>
<rect x="412.2" y="1057.7" width="8.5" height="8.5" fill="#f0202a"/><rect x="536" y="1072" width="8.5" height="8.5" fill="#f0202a"/><rect x="659.7" y="1101.5" width="8.5" height="8.5" fill="#f0202a"/><rect x="721.6" y="1136.8" width="8.5" height="8.5" fill="#f0202a"/><rect x="752.5" y="1156.9" width="8.5" height="8.5" fill="#f0202a"/><rect x="783.5" y="1184.6" width="8.5" height="8.5" fill="#f0202a"/><rect x="845.3" y="1240.1" width="8.5" height="8.5" fill="#f0202a"/><rect x="907.2" y="1289.2" width="8.5" height="8.5" fill="#f0202a"/><rect x="1031" y="1382.4" width="8.5" height="8.5" fill="#f0202a"/><rect x="1154.7" y="1479.4" width="8.5" height="8.5" fill="#f0202a"/><rect x="1263" y="1562.6" width="8.5" height="8.5" fill="#f0202a"/>
<polyline points="416.4,1061.6 540.2,1079.5 663.9,1110.3 725.8,1145.5 756.8,1165.7 787.7,1192.7 849.6,1249.8 911.4,1299.7 1035.2,1391.2 1158.9,1490 1267.2,1570.6" fill="none" stroke="#e21446" stroke-width="3.2" stroke-linejoin="round"/>
<circle cx="416.4" cy="1061.6" r="3.4" fill="#f0506e" stroke="#e21446" stroke-width="2.6"/><circle cx="540.2" cy="1079.5" r="3.4" fill="#f0506e" stroke="#e21446" stroke-width="2.6"/><circle cx="663.9" cy="1110.3" r="3.4" fill="#f0506e" stroke="#e21446" stroke-width="2.6"/><circle cx="725.8" cy="1145.5" r="3.4" fill="#f0506e" stroke="#e21446" stroke-width="2.6"/><circle cx="756.8" cy="1165.7" r="3.4" fill="#f0506e" stroke="#e21446" stroke-width="2.6"/><circle cx="787.7" cy="1192.7" r="3.4" fill="#f0506e" stroke="#e21446" stroke-width="2.6"/><circle cx="849.6" cy="1249.8" r="3.4" fill="#f0506e" stroke="#e21446" stroke-width="2.6"/><circle cx="911.4" cy="1299.7" r="3.4" fill="#f0506e" stroke="#e21446" stroke-width="2.6"/><circle cx="1035.2" cy="1391.2" r="3.4" fill="#f0506e" stroke="#e21446" stroke-width="2.6"/><circle cx="1158.9" cy="1490" r="3.4" fill="#f0506e" stroke="#e21446" stroke-width="2.6"/><circle cx="1267.2" cy="1570.6" r="3.4" fill="#f0506e" stroke="#e21446" stroke-width="2.6"/>
<path d="M447.4 1642.4v-13M447.4 1012.5v13M602.1 1642.4v-13M602.1 1012.5v13M756.8 1642.4v-13M756.8 1012.5v13M911.4 1642.4v-13M911.4 1012.5v13M1066.1 1642.4v-13M1066.1 1012.5v13M1220.8 1642.4v-13M1220.8 1012.5v13M292.7 1516.4h13M292.7 1390.4h13M292.7 1264.5h13M292.7 1138.5h13M1375.5 1516.4h-13M1375.5 1390.4h-13M1375.5 1264.5h-13M1375.5 1138.5h-13" stroke="#141414" stroke-width="3" fill="none"/>
<rect x="292.7" y="1012.5" width="1082.8" height="629.9" fill="none" stroke="#141414" stroke-width="3.2"/>
<text x="292.7" y="1708.6" text-anchor="middle" font-size="56" textLength="27.7" lengthAdjust="spacingAndGlyphs">0</text>
<text x="447.4" y="1708.6" text-anchor="middle" font-size="56" textLength="55.4" lengthAdjust="spacingAndGlyphs">10</text>
<text x="602.1" y="1708.6" text-anchor="middle" font-size="56" textLength="55.4" lengthAdjust="spacingAndGlyphs">20</text>
<text x="756.8" y="1708.6" text-anchor="middle" font-size="56" textLength="55.4" lengthAdjust="spacingAndGlyphs">30</text>
<text x="911.4" y="1708.6" text-anchor="middle" font-size="56" textLength="55.4" lengthAdjust="spacingAndGlyphs">40</text>
<text x="1066.1" y="1708.6" text-anchor="middle" font-size="56" textLength="55.4" lengthAdjust="spacingAndGlyphs">50</text>
<text x="1220.8" y="1708.6" text-anchor="middle" font-size="56" textLength="55.4" lengthAdjust="spacingAndGlyphs">60</text>
<text x="1375.5" y="1708.6" text-anchor="middle" font-size="56" textLength="55.4" lengthAdjust="spacingAndGlyphs">70</text>
<text x="266.9" y="1661.7" text-anchor="end" font-size="56" textLength="27.7" lengthAdjust="spacingAndGlyphs">5</text>
<text x="266.9" y="1535.7" text-anchor="end" font-size="56" textLength="55.4" lengthAdjust="spacingAndGlyphs">10</text>
<text x="266.9" y="1409.7" text-anchor="end" font-size="56" textLength="55.4" lengthAdjust="spacingAndGlyphs">15</text>
<text x="266.9" y="1283.8" text-anchor="end" font-size="56" textLength="55.4" lengthAdjust="spacingAndGlyphs">20</text>
<text x="266.9" y="1157.8" text-anchor="end" font-size="56" textLength="55.4" lengthAdjust="spacingAndGlyphs">25</text>
<text x="266.9" y="1031.8" text-anchor="end" font-size="56" textLength="55.4" lengthAdjust="spacingAndGlyphs">30</text>
<rect x="1040.6" y="1083.5" width="298.8" height="241" fill="#f9f9f9" stroke="#141414" stroke-width="3"/>
<path d="M1064 1109.5H1110" stroke="#0a0a0a" stroke-width="3"/>
<circle cx="1087.4" cy="1109.5" r="5" fill="#0a0a0a"/>
<text x="1125.8" y="1122.5" font-size="42" textLength="66.6" lengthAdjust="spacingAndGlyphs">−45</text>
<path d="M1064 1147.3H1110" stroke="#0a0a0a" stroke-width="3"/>
<path d="M1087.4 1142.1V1152.5M1082.2 1147.3H1092.6" stroke="#0a0a0a" stroke-width="2.4" fill="none"/>
<text x="1125.8" y="1160.3" font-size="42" textLength="66.6" lengthAdjust="spacingAndGlyphs">−40</text>
<path d="M1064 1185.1H1110" stroke="#0a0a0a" stroke-width="3"/>
<rect x="1082.6" y="1180.3" width="9.6" height="9.6" fill="#0a0a0a"/>
<text x="1125.8" y="1198.1" font-size="42" textLength="66.6" lengthAdjust="spacingAndGlyphs">−30</text>
<path d="M1064 1223H1110" stroke="#0a0a0a" stroke-width="3"/>
<circle cx="1087.4" cy="1223" r="3.7" fill="#d8d8d8" stroke="#0a0a0a" stroke-width="3"/>
<text x="1125.8" y="1236" font-size="42" textLength="66.6" lengthAdjust="spacingAndGlyphs">−20</text>
<path d="M1064 1260.8H1110" stroke="#4236a4" stroke-width="2.5"/>
<circle cx="1087.4" cy="1260.8" r="4.3" fill="#4236a4"/>
<text x="1125.8" y="1273.8" font-size="42" textLength="66.6" lengthAdjust="spacingAndGlyphs">−10</text>
<path d="M1064 1298.5H1110" stroke="#1f5572" stroke-width="2.5"/>
<path d="M1087.4 1293.5V1303.5M1082.4 1298.5H1092.4" stroke="#1f5572" stroke-width="2.4" fill="none"/>
<text x="1127" y="1311.5" font-size="42">0</text>
<path d="M1222.5 1109.5H1268.5" stroke="#1f4cb4" stroke-width="2.5"/>
<rect x="1241.6" y="1105.2" width="8.6" height="8.6" fill="#1f4cb4"/>
<text x="1328" y="1122.5" font-size="42" text-anchor="end">10</text>
<path d="M1222.5 1147.3H1268.5" stroke="#4050b8" stroke-width="2.5"/>
<circle cx="1245.9" cy="1147.3" r="3.6" fill="#8f98dd" stroke="#4050b8" stroke-width="2.6"/>
<text x="1328" y="1160.3" font-size="42" text-anchor="end">20</text>
<path d="M1222.5 1185.1H1268.5" stroke="#e0103f" stroke-width="2.5"/>
<circle cx="1245.9" cy="1185.1" r="4.2" fill="#e0103f"/>
<text x="1328" y="1198.1" font-size="42" text-anchor="end">30</text>
<path d="M1222.5 1223H1268.5" stroke="#e6163c" stroke-width="2.5"/>
<path d="M1245.9 1218V1228M1240.9 1223H1250.9" stroke="#e6163c" stroke-width="2.4" fill="none"/>
<text x="1328" y="1236" font-size="42" text-anchor="end">40</text>
<path d="M1222.5 1260.8H1268.5" stroke="#f0202a" stroke-width="2.5"/>
<rect x="1241.3" y="1256.2" width="9.2" height="9.2" fill="#f0202a"/>
<text x="1328" y="1273.8" font-size="42" text-anchor="end">50</text>
<path d="M1222.5 1298.5H1268.5" stroke="#e21446" stroke-width="2.5"/>
<circle cx="1245.9" cy="1298.5" r="3.8" fill="#f0506e" stroke="#e21446" stroke-width="2.6"/>
<text x="1328" y="1311.5" font-size="42" text-anchor="end">60</text>
<text x="1050.6" y="1062.8" font-size="41" textLength="281.9" lengthAdjust="spacingAndGlyphs">Temperature / ℃</text>
<text x="1292.4" y="974.4" font-size="55" textLength="65.7" lengthAdjust="spacingAndGlyphs">(b)</text>
<text x="522.8" y="1776" font-size="56" textLength="621.2" lengthAdjust="spacingAndGlyphs">Setting of transmission gain</text>
<text x="1275.3" y="1776" font-size="56" textLength="137.2" lengthAdjust="spacingAndGlyphs">(×0.5)</text>
<text transform="translate(108.3 1598.1) rotate(-90)" x="-1" y="0" font-size="56" textLength="512.3" lengthAdjust="spacingAndGlyphs">Transmission power of</text>
<text transform="translate(175.5 1528.3) rotate(-90)" x="-1" y="0" font-size="56" textLength="378.4" lengthAdjust="spacingAndGlyphs">HF channel/dBm</text>
</svg>
</body>
</html>
